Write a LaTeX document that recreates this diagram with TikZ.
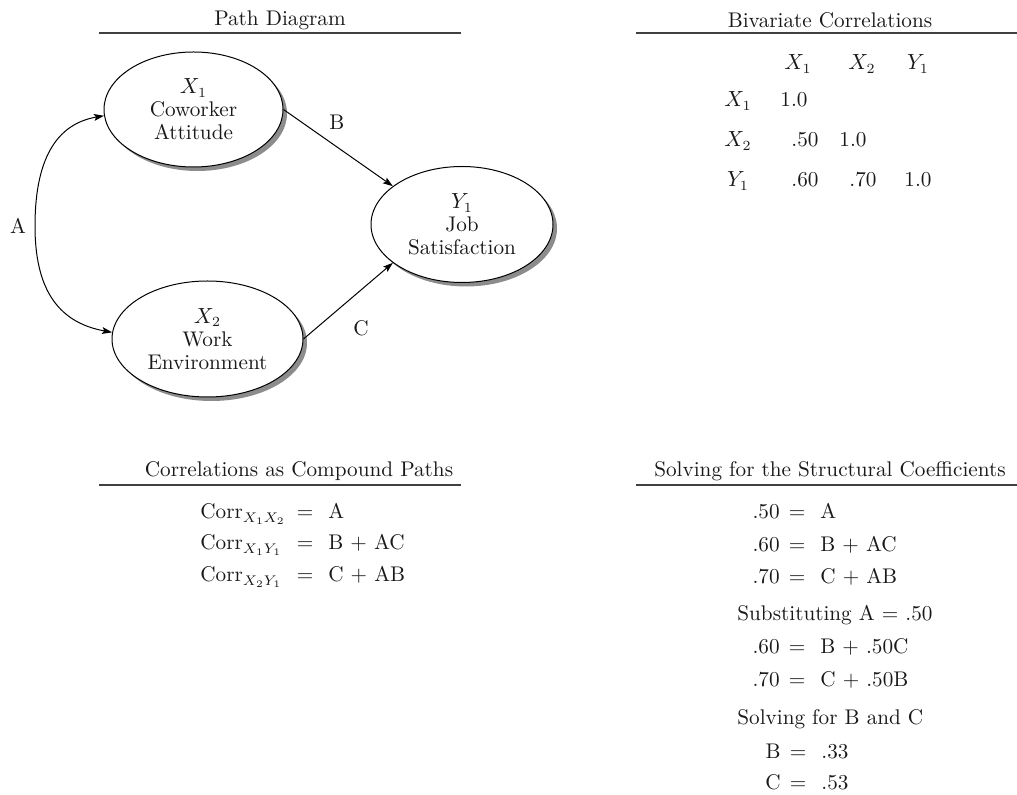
\documentclass[tikz,border=0pt]{standalone}
\usetikzlibrary{shapes.geometric,shadows,arrows.meta}
\begin{document}
\begin{tikzpicture}[x=0.5pt,y=-0.5pt,
  every node/.style={font=\fontsize{10.6}{11.5}\selectfont, text=black!90, inner sep=0pt},
  var/.style={ellipse, draw=black, line width=0.5pt, fill=white, align=center,
     drop shadow={shadow xshift=2pt, shadow yshift=-2pt, fill=black!45, opacity=1}},
  rulel/.style={draw=black!75, line width=0.9pt},
  pth/.style={draw=black, line width=0.5pt, -{Stealth[length=5pt,width=3.4pt,inset=1pt]}},
  biarr/.style={draw=black, line width=0.5pt, {Stealth[length=5pt,width=3.4pt,inset=1pt]}-{Stealth[length=5pt,width=3.4pt,inset=1pt]}},
  lhs/.style={anchor=base east},
  eqs/.style={anchor=base},
  rhs/.style={anchor=base west},
  cell/.style={anchor=center}
]
\useasboundingbox (0,0) rectangle (1017,795);

% ---------- Path diagram ----------
\node (t1) at (280,20) {Path Diagram};
\draw[rulel] (99,33) -- (461,33);

\node[var, minimum width=89.5pt, minimum height=57.5pt] (X1) at (193.5,109.5) {$X_1$\\Coworker\\Attitude};
\node[var, minimum width=91pt, minimum height=58pt] (Y1) at (462,224.5) {$Y_1$\\Job\\Satisfaction};
\node[var, minimum width=95.5pt, minimum height=58pt] (X2) at (207.5,339) {$X_2$\\Work\\Environment};

\draw[biarr] (X1.184) .. controls (50,125) and (35,170) .. (35,226)
                      .. controls (35,285) and (55,322) .. (X2.176);
\draw[pth] (X1.east) -- (Y1.151);
\draw[pth] (X2.east) -- (Y1.209);

\node (lA) at (18,226) {A};
\node (lB) at (337,122) {B};
\node (lC) at (361,328) {C};

% ---------- Bivariate correlations ----------
\node (t2) at (830,20) {Bivariate Correlations};
\draw[rulel] (636,33) -- (1017,33);

\node[cell] (hX1) at (798,64) {$X_1$};
\node[cell] (hX2) at (862,64) {$X_2$};
\node[cell] (hY1) at (918,64) {$Y_1$};
\node[cell] (rX1) at (738,101) {$X_1$};
\node[cell] (rX2) at (738,141) {$X_2$};
\node[cell] (rY1) at (738,181) {$Y_1$};
\node[cell] (c11) at (794,100) {1.0};
\node[cell] (c21) at (805,140) {.50};
\node[cell] (c22) at (853,140) {1.0};
\node[cell] (c31) at (805,180) {.60};
\node[cell] (c32) at (863,180) {.70};
\node[cell] (c33) at (918,180) {1.0};

% ---------- Compound paths ----------
\node (t3) at (299,471) {Correlations as Compound Paths};
\draw[rulel] (99,485) -- (461,485);

\node[anchor=base west] (k1) at (200,519) {Corr$_{X_1X_2}$};
\node[eqs] (k1e) at (305,519) {=};
\node[rhs] (k1r) at (328,519) {A};
\node[anchor=base west] (k2) at (200,550) {Corr$_{X_1Y_1}$};
\node[eqs] (k2e) at (305,550) {=};
\node[rhs] (k2r) at (328,550) {B + AC};
\node[anchor=base west] (k3) at (200,582) {Corr$_{X_2Y_1}$};
\node[eqs] (k3e) at (305,582) {=};
\node[rhs] (k3r) at (328,582) {C + AB};

% ---------- Solving ----------
\node (t4) at (830,471) {Solving for the Structural Coefficients};
\draw[rulel] (636,485) -- (1017,485);

\node[lhs] (s1) at (780,519) {.50};
\node[eqs] (s1e) at (797,519) {=};
\node[rhs] (s1r) at (820,519) {A};
\node[lhs] (s2) at (780,552) {.60};
\node[eqs] (s2e) at (797,552) {=};
\node[rhs] (s2r) at (820,552) {B + AC};
\node[lhs] (s3) at (780,584) {.70};
\node[eqs] (s3e) at (797,584) {=};
\node[rhs] (s3r) at (820,584) {C + AB};

\node[anchor=base west] (sub) at (737,621) {Substituting A = .50};
\node[lhs] (s4) at (780,654) {.60};
\node[eqs] (s4e) at (797,654) {=};
\node[rhs] (s4r) at (820,654) {B + .50C};
\node[lhs] (s5) at (780,687) {.70};
\node[eqs] (s5e) at (797,687) {=};
\node[rhs] (s5r) at (820,687) {C + .50B};

\node[anchor=base west] (sol) at (737,725) {Solving for B and C};
\node[lhs] (s6) at (781,759) {B};
\node[eqs] (s6e) at (798,759) {=};
\node[rhs] (s6r) at (821,759) {.33};
\node[lhs] (s7) at (781,790) {C};
\node[eqs] (s7e) at (798,790) {=};
\node[rhs] (s7r) at (821,790) {.53};
\end{tikzpicture}
\end{document}
